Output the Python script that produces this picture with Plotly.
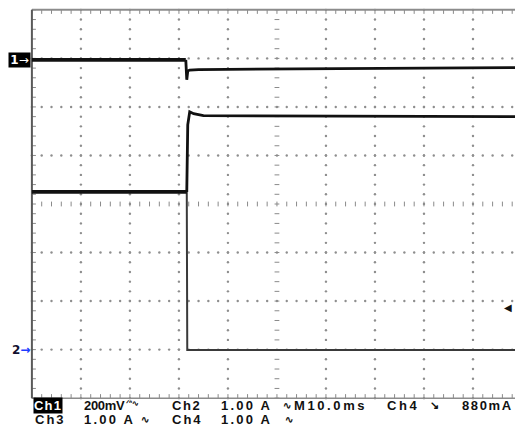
import plotly.graph_objects as go

# ---- data (in screen divisions: x 0..10 time divs, y 0..8 vertical divs) ----
ch1_t = [0.00, 3.14, 3.16, 3.18, 3.22, 3.40, 6.00, 9.86]
ch1_v = [6.97, 6.97, 6.56, 6.74, 6.76, 6.77, 6.79, 6.81]
ch1_split = 2

ch4_t = [0.00, 3.16, 3.18, 3.22, 3.30, 3.50, 9.86]
ch4_v = [4.25, 4.25, 5.63, 5.90, 5.86, 5.82, 5.80]
ch4_split = 2

ch2_t = [0.00, 3.16, 3.17, 9.86]
ch2_v = [4.25, 4.25, 0.99, 0.99]

status_row1 = ["200mV", "Ch2", "1.00 A", "M10.0ms", "Ch4", "880mA"]
status_row2 = ["Ch3", "1.00 A", "Ch4", "1.00 A"]

PXX, PXY = 49.0, 48.5
ML = 32 - 0.1 * PXX
MT = 10 - 0.1 * PXY
MB = 29 - 0.1 * PXY
PW = 515 - ML
PH = 427 - MT - MB

def ppx(px): return (px - ML) / PW
def ppy(py): return (427 - MB - py) / PH

fig = go.Figure()

# ---- graticule dots ----
gx, gy = [], []
for yl in [1, 2, 3, 5, 6, 7]:
    for k in range(0, 50):
        gx.append(k * 0.2); gy.append(yl)
for xl in [1, 2, 3, 4, 6, 7, 8, 9]:
    for k in range(0, 41):
        gx.append(xl); gy.append(k * 0.2)
fig.add_trace(go.Scatter(x=gx, y=gy, mode="markers",
                         marker=dict(size=2.4, color="#8e8e8e"),
                         hoverinfo="skip", showlegend=False))

# ---- ticks on borders and center axes ----
tx, ty = [], []
tl_x = 4 / PXX
tl_y = 4 / PXY
for k in range(0, 50):
    x = k * 0.2
    tx += [x, x, None]; ty += [8, 8 - tl_y, None]     # top
    tx += [x, x, None]; ty += [0, 0 + tl_y, None]     # bottom
    tx += [x, x, None]; ty += [4 - tl_y * 0.6, 4 + tl_y * 0.6, None]  # center horiz
for k in range(0, 41):
    y = k * 0.2
    tx += [0, tl_x, None]; ty += [y, y, None]         # left
    tx += [5 - tl_x * 0.6, 5 + tl_x * 0.6, None]; ty += [y, y, None]  # center vert
fig.add_trace(go.Scatter(x=tx, y=ty, mode="lines",
                         line=dict(color="#8a8a8a", width=1),
                         hoverinfo="skip", showlegend=False))

# borders
fig.add_trace(go.Scatter(x=[0, 9.86], y=[8, 8], mode="lines",
                         line=dict(color="#8c8c8c", width=2), hoverinfo="skip", showlegend=False))
fig.add_trace(go.Scatter(x=[0, 9.86], y=[0, 0], mode="lines",
                         line=dict(color="#8c8c8c", width=1.5), hoverinfo="skip", showlegend=False))
fig.add_trace(go.Scatter(x=[0, 0], y=[0, 8], mode="lines",
                         line=dict(color="#5a5a5a", width=2), hoverinfo="skip", showlegend=False))

# ---- waveforms ----
fig.add_trace(go.Scatter(x=ch2_t, y=ch2_v, mode="lines",
                         line=dict(color="#3a3a3a", width=2), hoverinfo="skip", showlegend=False))
fig.add_trace(go.Scatter(x=ch4_t[:ch4_split], y=ch4_v[:ch4_split], mode="lines",
                         line=dict(color="#111111", width=3.8), hoverinfo="skip", showlegend=False))
fig.add_trace(go.Scatter(x=ch4_t[ch4_split - 1:], y=ch4_v[ch4_split - 1:], mode="lines",
                         line=dict(color="#111111", width=2.8), hoverinfo="skip", showlegend=False))
fig.add_trace(go.Scatter(x=ch1_t[:ch1_split], y=ch1_v[:ch1_split], mode="lines",
                         line=dict(color="#111111", width=3.8), hoverinfo="skip", showlegend=False))
fig.add_trace(go.Scatter(x=ch1_t[ch1_split - 1:], y=ch1_v[ch1_split - 1:], mode="lines",
                         line=dict(color="#111111", width=2.8), hoverinfo="skip", showlegend=False))

# ---- annotations ----
ann = []
FONT = "Liberation Sans"
def txt(text, px, py, size=13, color="#111", ls=1.6, **kw):
    ann.append(dict(text="<span style='letter-spacing:%.1fpx'><b>%s</b></span>" % (ls, text),
                    x=ppx(px), y=ppy(py), xref="paper", yref="paper",
                    xanchor="left", yanchor="middle", showarrow=False,
                    font=dict(family=FONT, size=size, color=color), **kw))

# channel markers
ann.append(dict(text="<b>1</b>→", x=ppx(19.5), y=ppy(60), xref="paper", yref="paper",
                xanchor="center", yanchor="middle", showarrow=False,
                bgcolor="#000", width=21, height=14, borderpad=0,
                font=dict(family="DejaVu Sans", size=12, color="#fff")))
ann.append(dict(text="<b>2</b><span style='color:#1e3cff'><b>→</b></span>", x=ppx(10), y=ppy(350),
                xref="paper", yref="paper", xanchor="left", yanchor="middle", showarrow=False,
                font=dict(family="DejaVu Sans", size=12, color="#101030")))
# trigger level marker
ann.append(dict(text="◀", x=ppx(514), y=ppy(307), xref="paper", yref="paper",
                xanchor="right", yanchor="middle", showarrow=False,
                font=dict(family="DejaVu Sans", size=10, color="#111")))

# status line
ann.append(dict(text="<span style='letter-spacing:1.2px'><b>Ch1</b></span>", x=ppx(33), y=ppy(405),
                xref="paper", yref="paper",
                xanchor="left", yanchor="middle", showarrow=False,
                bgcolor="#000", borderpad=0,
                font=dict(family=FONT, size=13, color="#fff")))
txt(status_row1[0], 82, 405, ls=-0.3)
txt("<span style='font-size:8px'>ᐟᐢ∿</span>", 124, 403, ls=0)
txt(status_row1[1], 170, 405)
txt(status_row1[2], 219, 405, ls=2.2)
txt("∿", 281, 405, size=10, ls=0)
txt(status_row1[3], 292, 405, ls=2.6)
txt(status_row1[4], 385, 405, ls=2.6)
txt("↘", 428, 405, size=11, ls=0)
txt(status_row1[5], 460, 405, ls=1.6)

txt("Ch3", 33, 419, ls=2.0)
txt(status_row2[1], 82, 419, ls=2.2)
txt("∿", 139, 419, size=10, ls=0)
txt(status_row2[2], 170, 419, ls=2.0)
txt(status_row2[3], 219, 419, ls=2.2)
txt("∿", 283, 419, size=10, ls=0)

fig.update_layout(
    width=515, height=427,
    paper_bgcolor="white", plot_bgcolor="white",
    margin=dict(l=ML, r=0, t=MT, b=MB, pad=0),
    xaxis=dict(range=[-0.1, (515 - 32) / PXX], visible=False, fixedrange=True),
    yaxis=dict(range=[-0.1, 8.1], visible=False, fixedrange=True),
    annotations=ann,
    showlegend=False,
)

fig.write_html("out.html", config={"displayModeBar": False},
               post_script="document.body.style.margin='0';document.body.style.overflow='hidden';")
